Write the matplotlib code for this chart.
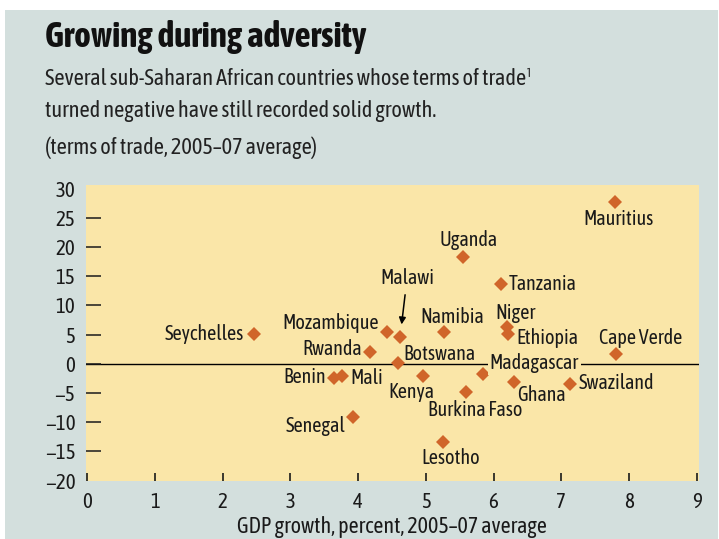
import matplotlib
matplotlib.use("Agg")
from matplotlib import pyplot as plt
from matplotlib import font_manager

# data
countries = ['Seychelles', 'Mozambique', 'Malawi', 'Rwanda', 'Botswana', 'Benin', 'Mali',
             'Senegal', 'Kenya', 'Namibia', 'Uganda', 'Tanzania', 'Niger', 'Ethiopia',
             'Madagascar', 'Burkina Faso', 'Ghana', 'Swaziland', 'Cape Verde', 'Mauritius',
             'Lesotho']
gdp_growth = [2.46, 4.43, 4.62, 4.17, 4.59, 3.65, 3.76,
              3.93, 4.96, 5.27, 5.55, 6.11, 6.20, 6.21,
              5.84, 5.59, 6.30, 7.13, 7.81, 7.79,
              5.25]
terms_of_trade = [5.1, 5.4, 4.6, 2.05, 0.1, -2.4, -2.1,
                  -9.1, -2.1, 5.4, 18.3, 13.6, 6.3, 5.1,
                  -1.8, -4.8, -3.1, -3.5, 1.7, 27.7,
                  -13.4]
x_ticks = list(range(0, 10))
y_ticks = list(range(-20, 35, 5))

# label placement: (dx px, dy px, ha)
label_pos = {
    'Seychelles': (-10, 0, 'right'),
    'Mozambique': (-8, 9, 'right'),
    'Malawi': (7, 59, 'center'),
    'Rwanda': (-8, 3, 'right'),
    'Botswana': (5, 9, 'left'),
    'Benin': (-8, 1, 'right'),
    'Mali': (8, -2, 'left'),
    'Senegal': (-8, -9, 'right'),
    'Kenya': (-12, -16, 'center'),
    'Namibia': (8, 15, 'center'),
    'Uganda': (5, 17, 'center'),
    'Tanzania': (8, 0, 'left'),
    'Niger': (8, 14, 'center'),
    'Ethiopia': (9, -4, 'left'),
    'Madagascar': (7, 11, 'left'),
    'Burkina Faso': (9, -18, 'center'),
    'Ghana': (3, -13, 'left'),
    'Swaziland': (9, 1, 'left'),
    'Cape Verde': (25, 16, 'center'),
    'Mauritius': (4, -17, 'center'),
    'Lesotho': (8, -16, 'center'),
}

bg = '#d3dfdd'
yellow = '#fae6a8'
marker_col = '#d0652a'


def wnum(w):
    if isinstance(w, str):
        return {'bold': 700, 'semibold': 600, 'demibold': 600, 'heavy': 800,
                'black': 900, 'extra bold': 800}.get(w.lower(), 400)
    return int(w)


# pick a narrow font (preferably one that has a bold face)
weights = {}
for f in font_manager.fontManager.ttflist:
    if 'Narrow' in f.name or 'Condensed' in f.name:
        weights.setdefault(f.name, set()).add(wnum(f.weight))
with_bold = sorted(n for n, w in weights.items() if max(w) >= 700)
narrow = with_bold or sorted(weights)
font = narrow[:1] + ['DejaVu Sans']
plt.rcParams['font.family'] = font

W, H = 719, 539
fig = plt.figure(figsize=(W / 100, H / 100), dpi=100, facecolor='white')
# grey panel
fig.patches.append(plt.Rectangle((5 / W, 0), 713 / W, 1 - 10 / H, transform=fig.transFigure,
                                 facecolor=bg, edgecolor='none', zorder=-5))

ax = fig.add_axes([85.7 / W, 1 - 480.7 / H, (699 - 85.7) / W, (480.7 - 185) / H])
ax.set_facecolor(yellow)
ax.set_xlim(-0.024, 9.035)
ax.set_ylim(-20.03, 30.6)
for s in ax.spines.values():
    s.set_visible(False)

ax.axhline(0, color='black', lw=1.0, zorder=1)
ax.plot(gdp_growth, terms_of_trade, linestyle='none', marker='D', markersize=7.5,
        color=marker_col, markeredgewidth=0, zorder=3)

for name, gx, ty in zip(countries, gdp_growth, terms_of_trade):
    dx, dy, ha = label_pos[name]
    kw = {}
    if name == 'Madagascar':
        kw['bbox'] = dict(facecolor=yellow, edgecolor='none', pad=1.5)
    if name == 'Malawi':
        kw['arrowprops'] = dict(arrowstyle='-|>', color='black', lw=1.1,
                                shrinkA=3, shrinkB=9, mutation_scale=10)
    ax.annotate(name, xy=(gx, ty), xytext=(dx, dy), textcoords='offset pixels',
                ha=ha, va='center', fontsize=14.5, color='#1a1a1a', zorder=4, **kw)

ax.set_xticks(x_ticks)
ax.set_yticks(y_ticks)
ax.tick_params(axis='x', direction='in', length=6, width=1.2, pad=8, labelsize=15,
               colors='#1a1a1a')
ax.tick_params(axis='y', direction='in', length=11, width=1.1, pad=7.5, labelsize=15,
               colors='#1a1a1a')
ax.set_yticklabels([str(v).replace('-', '\u2212') for v in y_ticks])
yt = ax.yaxis.get_major_ticks()
yt[0].tick1line.set_visible(False)
yt[-1].tick1line.set_visible(False)

ax.set_xlabel('GDP growth, percent, 2005\u201307 average', fontsize=15.8, labelpad=3,
              color='#1a1a1a')

fig.text(45 / W, 1 - 47 / H, 'Growing during adversity', fontsize=25.5, fontweight='bold',
         ha='left', va='baseline', color='#111111')
fig.text(45 / W, 1 - 85 / H, 'Several sub-Saharan African countries whose terms of trade\u00b9',
         fontsize=16, ha='left', va='baseline', color='#222222')
fig.text(45 / W, 1 - 117 / H, 'turned negative have still recorded solid growth.',
         fontsize=16, ha='left', va='baseline', color='#222222')
fig.text(45 / W, 1 - 154 / H, '(terms of trade, 2005\u201307 average)',
         fontsize=16, ha='left', va='baseline', color='#222222')

plt.savefig('out.png', dpi=100, facecolor=fig.get_facecolor())
plt.close()
